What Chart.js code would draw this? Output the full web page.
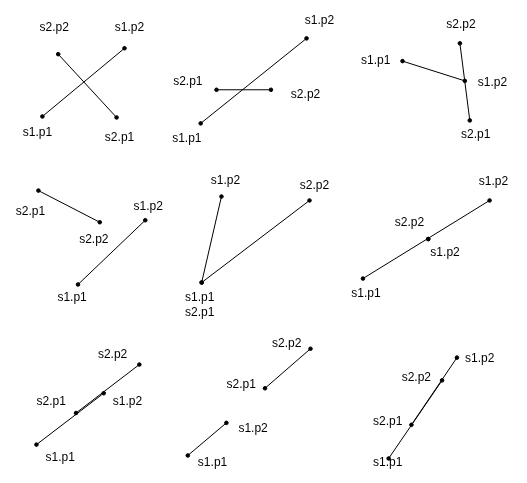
<!DOCTYPE html>
<html>
<head>
<meta charset="utf-8">
<script src="https://cdn.jsdelivr.net/npm/chart.js@4"></script>
<style>
  html, body { margin: 0; padding: 0; background: #fff; }
  #wrap { width: 527px; height: 483px; }
</style>
</head>
<body>
<div id="wrap"><canvas id="myChart" width="527" height="483"></canvas></div>
<script>
// segment end points, [x1, y1, x2, y2] in picture units
const segments = [
    [40, 115, 123, 46], [56, 52, 115, 116],
    [200, 122, 307, 36], [216, 88, 271, 88],
    [404, 59, 467, 79], [462, 41, 472, 119],
    [76, 285, 144, 220], [36, 190, 98, 222],
    [201, 283, 221, 196], [201, 283, 310, 200],
    [364, 279, 492, 200], [430, 239, 430, 239],
    [34, 447, 102, 395], [74, 415, 138, 366],
    [187, 458, 226, 425], [265, 390, 311, 350],
    [390, 461, 444, 382], [413, 427, 459, 359]
];

// point labels
const labelText = [
    "s2.p2", "s1.p2", "s1.p1", "s2.p1",
    "s1.p2", "s2.p1", "s2.p2", "s1.p1",
    "s2.p2", "s1.p1", "s1.p2", "s2.p1",
    "s2.p1", "s2.p2", "s1.p2", "s1.p1",
    "s1.p2", "s2.p2", "s1.p1", "s2.p1",
    "s1.p2", "s2.p2", "s1.p2", "s1.p1",
    "s2.p2", "s2.p1", "s1.p2", "s1.p1",
    "s2.p2", "s2.p1", "s1.p2", "s1.p1",
    "s1.p2", "s2.p2", "s2.p1", "s1.p1"
];
const labelX = [
    52, 128, 35, 118,
    320, 187, 306, 186,
    463, 377, 495, 478,
    28, 92, 147, 70,
    225, 315, 199, 199,
    496, 411, 447, 367,
    111, 49, 126, 58,
    287, 241, 253, 212,
    482, 418, 389, 389
];
const labelY = [
    25, 25, 131, 136,
    18, 80, 93, 137,
    22, 59, 81, 133,
    211, 240, 206, 298,
    180, 185, 298, 314,
    181, 222, 253, 294,
    356, 404, 404, 460,
    345, 386, 431, 465,
    360, 379, 424, 465
];

const datasets = segments.map(s => ({
    data: [{ x: s[0], y: s[1] }, { x: s[2], y: s[3] }],
    showLine: true,
    borderColor: "#000",
    backgroundColor: "#000",
    borderWidth: 1,
    pointRadius: 1.8,
    pointHoverRadius: 1.8
}));

// draw the labels through the scales
const labelPlugin = {
    id: "pointLabels",
    afterDatasetsDraw(chart) {
        const ctx = chart.ctx;
        const xs = chart.scales.x, ys = chart.scales.y;
        ctx.save();
        ctx.fillStyle = "#000";
        ctx.font = "12px 'Liberation Sans', Arial, sans-serif";
        ctx.textAlign = "center";
        ctx.textBaseline = "middle";
        labelText.forEach((t, i) => {
            ctx.fillText(t, xs.getPixelForValue(labelX[i]), ys.getPixelForValue(labelY[i]));
        });
        ctx.restore();
    }
};

new Chart(document.getElementById("myChart"), {
    type: "scatter",
    data: { datasets: datasets },
    options: {
        responsive: false,
        animation: false,
        layout: { padding: 0 },
        plugins: { legend: { display: false }, tooltip: { enabled: false } },
        scales: {
            x: { type: "linear", min: 0, max: 527, display: false },
            y: { type: "linear", min: 0, max: 483, reverse: true, display: false }
        }
    },
    plugins: [labelPlugin]
});
</script>
</body>
</html>
